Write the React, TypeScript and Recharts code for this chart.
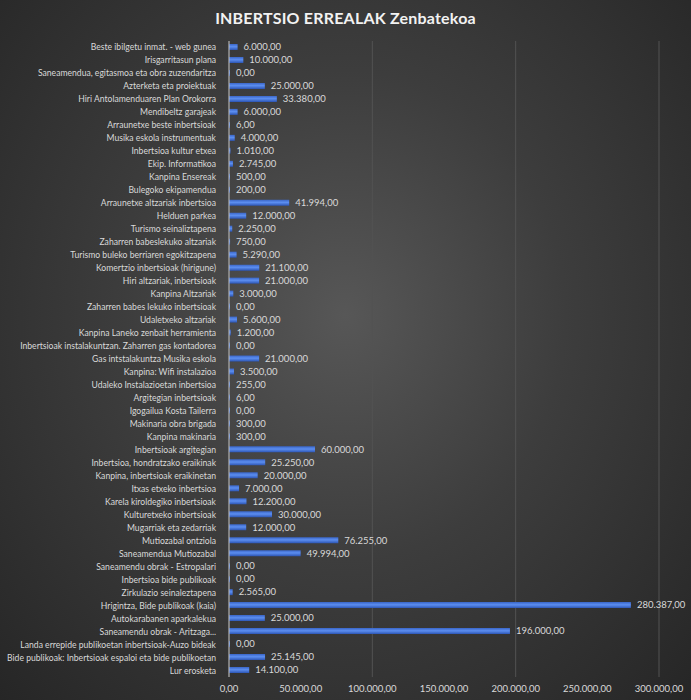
import React from 'react';
import { BarChart, Bar, XAxis, YAxis, CartesianGrid, LabelList } from 'recharts';

const title = 'INBERTSIO ERREALAK Zenbatekoa';

const categories: string[] = [
  'Beste ibilgetu inmat. - web gunea',
  'Irisgarritasun plana',
  'Saneamendua, egitasmoa eta obra zuzendaritza',
  'Azterketa eta proiektuak',
  'Hiri Antolamenduaren Plan Orokorra',
  'Mendibeltz garajeak',
  'Arraunetxe beste inbertsioak',
  'Musika eskola instrumentuak',
  'Inbertsioa kultur etxea',
  'Ekip. Informatikoa',
  'Kanpina Ensereak',
  'Bulegoko ekipamendua',
  'Arraunetxe altzariak inbertsioa',
  'Helduen parkea',
  'Turismo seinaliztapena',
  'Zaharren babeslekuko altzariak',
  'Turismo buleko berriaren egokitzapena',
  'Komertzio inbertsioak (hirigune)',
  'Hiri altzariak, inbertsioak',
  'Kanpina Altzariak',
  'Zaharren babes lekuko inbertsioak',
  'Udaletxeko altzariak',
  'Kanpina Laneko zenbait herramienta',
  'Inbertsioak instalakuntzan. Zaharren gas kontadorea',
  'Gas intstalakuntza Musika eskola',
  'Kanpina: Wifi instalazioa',
  'Udaleko Instalazioetan inbertsioa',
  'Argitegian inbertsioak',
  'Igogailua Kosta Tailerra',
  'Makinaria obra brigada',
  'Kanpina makinaria',
  'Inbertsioak argitegian',
  'Inbertsioa, hondratzako eraikinak',
  'Kanpina, inbertsioak eraikinetan',
  'Itxas etxeko inbertsioa',
  'Karela kiroldegiko inbertsioak',
  'Kulturetxeko inbertsioak',
  'Mugarriak eta zedarriak',
  'Mutiozabal ontziola',
  'Saneamendua Mutiozabal',
  'Saneamendu obrak - Estropalari',
  'Inbertsioa bide publikoak',
  'Zirkulazio seinaleztapena',
  'Hrigintza, Bide publikoak (kaia)',
  'Autokarabanen aparkalekua',
  'Saneamendu obrak - Aritzaga...',
  'Landa errepide publikoetan inbertsioak-Auzo bideak',
  'Bide publikoak: Inbertsioak espaloi eta bide publikoetan',
  'Lur erosketa',
];

const values: number[] = [
  6000, 10000, 0, 25000, 33380, 6000, 6, 4000, 1010, 2745, 500, 200,
  41994, 12000, 2250, 750, 5290, 21100, 21000, 3000, 0, 5600, 1200, 0,
  21000, 3500, 255, 6, 0, 300, 300, 60000, 25250, 20000, 7000, 12200,
  30000, 12000, 76255, 49994, 0, 0, 2565, 280387, 25000, 196000, 0, 25145, 14100,
];

const xTicks: number[] = [0, 50000, 100000, 150000, 200000, 250000, 300000];

const data = categories.map((name, i) => ({ name, value: values[i] }));

const fmt = (v: number) => {
  const n = Number(v);
  const intPart = Math.floor(n).toString().replace(/\B(?=(\d{3})+(?!\d))/g, '.');
  return `${intPart},00`;
};

const FONT = 'Lato, "Open Sans", sans-serif';
const TEXT = '#d9d9d9';

const CategoryTick = (props: any) => {
  const { x, y, payload } = props;
  return (
    <text
      x={x}
      y={y}
      dy={3}
      textAnchor="end"
      fill={TEXT}
      fontSize={8.6}
      fontFamily={FONT}
    >
      {payload.value}
    </text>
  );
};

const ValueLabel = (props: any) => {
  const { x, y, width, height, value } = props;
  return (
    <text
      x={Number(x) + Math.max(Number(width), 0) + 6}
      y={Number(y) + Number(height) / 2}
      dy={3.3}
      textAnchor="start"
      fill={TEXT}
      fontSize={9.5}
      fontFamily={FONT}
    >
      {fmt(value)}
    </text>
  );
};

export default function App() {
  return (
    <div
      style={{
        position: 'absolute',
        left: 0,
        top: 0,
        width: 691,
        height: 700,
        background: 'radial-gradient(ellipse at 50% 45%, #575757 0%, #3d3d3d 45%, #262626 100%)',
        fontFamily: FONT,
      }}
    >
      <div
        style={{
          position: 'absolute',
          top: 8,
          left: 0,
          width: 691,
          textAlign: 'center',
          color: '#f2f2f2',
          fontSize: 16,
          fontWeight: 700,
          fontFamily: FONT,
          letterSpacing: 0.2,
        }}
      >
        {title}
      </div>
      <BarChart
        width={691}
        height={700}
        data={data}
        layout="vertical"
        margin={{ top: 41, right: 32, bottom: 1, left: 0 }}
        barCategoryGap={3}
      >
        <defs>
          <linearGradient id="barGrad" x1="0" y1="0" x2="0" y2="1">
            <stop offset="0%" stopColor="#3a66c8" />
            <stop offset="45%" stopColor="#5c8ef0" />
            <stop offset="100%" stopColor="#2c55b4" />
          </linearGradient>
        </defs>
        <CartesianGrid horizontal={false} stroke="#525252" strokeWidth={1} />
        <XAxis
          type="number"
          domain={[0, 300000]}
          ticks={xTicks}
          tickFormatter={fmt}
          axisLine={false}
          tickLine={false}
          tick={{ fill: TEXT, fontSize: 9.5, fontFamily: FONT }}
          height={22}
        />
        <YAxis
          type="category"
          dataKey="name"
          width={229}
          interval={0}
          axisLine={{ stroke: '#bfbfbf', strokeWidth: 1 }}
          tickLine={false}
          tick={<CategoryTick />}
          tickMargin={7}
        />
        <Bar
          dataKey="value"
          fill="url(#barGrad)"
          barSize={6}
          minPointSize={1}
          isAnimationActive={false}
        >
          <LabelList dataKey="value" content={<ValueLabel />} />
        </Bar>
      </BarChart>
    </div>
  );
}
